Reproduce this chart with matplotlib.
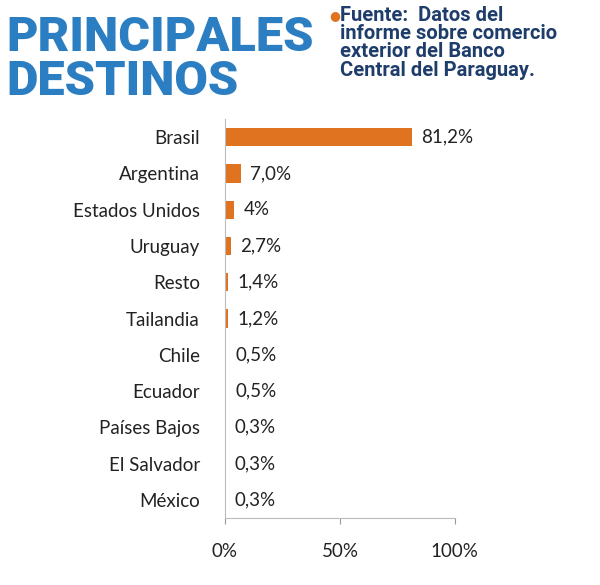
import matplotlib
matplotlib.use("Agg")
import matplotlib.pyplot as plt

categories = ["Brasil", "Argentina", "Estados Unidos", "Uruguay", "Resto", "Tailandia",
              "Chile", "Ecuador", "Países Bajos", "El Salvador", "México"]
values = [81.2, 7.0, 4.0, 2.7, 1.4, 1.2, 0.5, 0.5, 0.3, 0.3, 0.3]
labels = ["81,2%", "7,0%", "4%", "2,7%", "1,4%", "1,2%", "0,5%", "0,5%", "0,3%", "0,3%", "0,3%"]
xticks = [0, 50, 100]
xticklabels = ["0%", "50%", "100%"]

fig = plt.figure(figsize=(6, 5.85), dpi=100)
ax = fig.add_axes([0.375, 0.1145, 0.383, 0.682])
y = list(range(len(categories)))
ax.barh(y, values, height=0.5, color="#e0731f")
for yi, v, l in zip(y, values, labels):
    ax.text(v + 4, yi, l, va="center", ha="left", fontsize=13.5, family="Lato", color="#222222")
ax.set_ylim(len(categories) - 0.5, -0.5)
ax.set_xlim(0, 100)
ax.set_yticks(y)
ax.set_yticklabels(categories, fontsize=13.5, family="Lato", color="#222222")
ax.set_xticks(xticks)
ax.set_xticklabels(xticklabels, fontsize=13.5, family="Lato", color="#222222")
ax.tick_params(axis="y", length=0, pad=18)
ax.tick_params(axis="x", length=4, color="#999999", pad=14)
for s in ["top", "right"]:
    ax.spines[s].set_visible(False)
ax.spines["bottom"].set_color("#bbbbbb")
ax.spines["left"].set_color("#bbbbbb")

fig.text(0.01, 0.975, "PRINCIPALES\nDESTINOS", fontsize=35, fontweight="black",
         family="Roboto", color="#2b7ec1", va="top", ha="left", linespacing=0.95)
fig.text(0.548, 0.984, "\u25cf", fontsize=9, color="#e0731f", va="top", ha="left")
fig.text(0.566, 0.99, "Fuente:  Datos del\ninforme sobre comercio\nexterior del Banco\nCentral del Paraguay.",
         fontsize=14.5, fontweight="bold", family="Roboto", color="#1e3d6b", va="top", ha="left",
         linespacing=0.95)
fig.savefig("out.png", dpi=100, facecolor="white")
